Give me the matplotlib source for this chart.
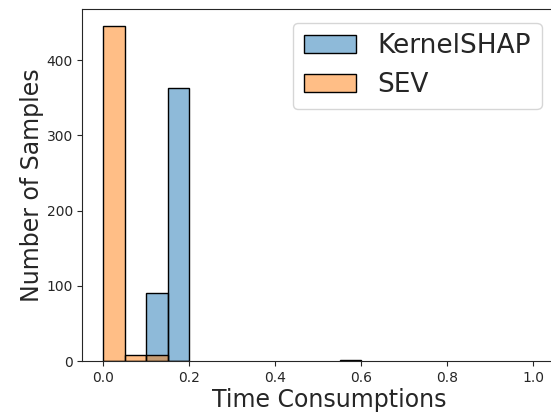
import numpy as np
import matplotlib.pyplot as plt

# histogram bins (left edges) and counts
bin_width = 0.05
bin_edges = [0.0, 0.05, 0.10, 0.15, 0.55]
kernelshap_counts = [0, 0, 90, 363, 1]
sev_counts = [445, 8, 8, 0, 0]

x_ticks = [0.0, 0.2, 0.4, 0.6, 0.8, 1.0]
y_ticks = [0, 100, 200, 300, 400]

text_color = '0.15'
plt.rcParams.update({
    'text.color': text_color,
    'axes.labelcolor': text_color,
    'xtick.color': text_color,
    'ytick.color': text_color,
    'axes.edgecolor': text_color,
})

fig = plt.figure(figsize=(5.51, 4.16), dpi=100)
# axes continue past the right edge of the figure, as in the reference
ax = fig.add_axes([0.1497, 0.1322, 0.896, 0.845])

ax.bar(bin_edges, kernelshap_counts, width=bin_width, align='edge',
       color=(0.122, 0.467, 0.706, 0.5), edgecolor='black', linewidth=1.0,
       label='KernelSHAP')
ax.bar(bin_edges, sev_counts, width=bin_width, align='edge',
       color=(1.0, 0.498, 0.055, 0.5), edgecolor='black', linewidth=1.0,
       label='SEV')

ax.set_xlim(-0.048, 1.10)
ax.set_ylim(0, 467.5)
ax.set_xticks(x_ticks)
ax.set_yticks(y_ticks)
ax.tick_params(labelsize=10)
ax.set_xlabel('Time Consumptions', fontsize=17, labelpad=2)
ax.set_ylabel('Number of Samples', fontsize=17, labelpad=2)

ax.legend(fontsize=19, loc='upper right', bbox_to_anchor=(0.983, 0.9454),
          bbox_transform=fig.transFigure, borderaxespad=0)

fig.savefig('out.png', dpi=100)
